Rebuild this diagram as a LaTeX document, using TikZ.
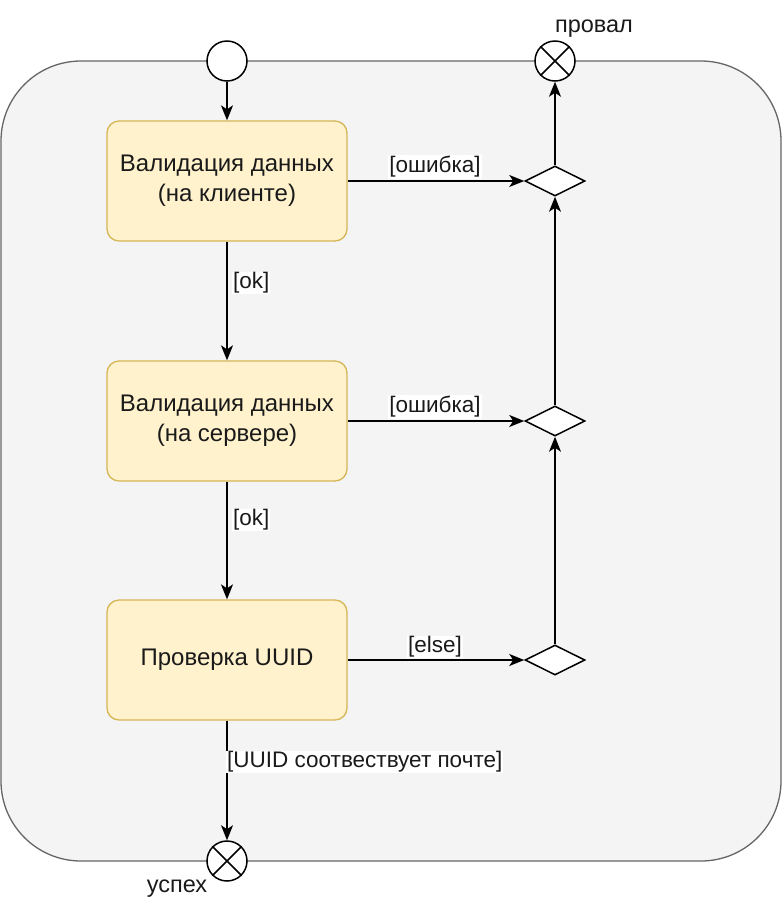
\documentclass[tikz,border=0pt]{standalone}
\usepackage{fontspec}
\setmainfont{Liberation Sans}
\usetikzlibrary{shapes, arrows.meta, positioning}
\definecolor{areafill}{HTML}{F4F4F4}
\definecolor{areadraw}{HTML}{666666}
\definecolor{actfill}{HTML}{FFF2CC}
\definecolor{actdraw}{HTML}{D6B656}
\definecolor{ink}{HTML}{1A1A1A}
\tikzstyle{act} = [rectangle, rounded corners=12pt, draw=actdraw, fill=actfill, line width=1.3pt, minimum width=240pt, minimum height=120pt, align=center, text=ink, font=\fontsize{24}{30}\selectfont]
\tikzstyle{dec} = [diamond, draw, fill=white, line width=1.5pt, minimum width=60pt, minimum height=30pt, inner sep=0pt]
\tikzstyle{startnode} = [circle, draw, fill=white, line width=1.5pt, minimum size=40pt, inner sep=0pt]
\tikzstyle{endnode} = [circle, draw, fill=white, line width=1.5pt, minimum size=40pt, inner sep=0pt]
\tikzstyle{line} = [draw, line width=1.5pt, -{Stealth[length=15pt, width=12pt, inset=4pt]}]
\tikzstyle{guard} = [fill=white, inner sep=1pt, text=ink, font=\fontsize{22.5}{25}\selectfont]
\tikzstyle{final} = [text=ink, font=\fontsize{23.5}{26}\selectfont]

\begin{document}
\begin{tikzpicture}[x=1pt, y=-1pt]
			\useasboundingbox (0,0) rectangle (784,922);
			\draw [areadraw, fill=areafill, line width=1.3pt, rounded corners=80pt] (1,61) rectangle (781,861);
			
			\node [startnode] (start) at (227, 61) {};
			\node [endnode] (fail) at (555, 61) {};
			\node [endnode] (ok) at (227, 861) {};
			\draw [line width=1.5pt] (fail.north east) -- (fail.south west);
			\draw [line width=1.5pt] (fail.north west) -- (fail.south east);
			\draw [line width=1.5pt] (ok.north east) -- (ok.south west);
			\draw [line width=1.5pt] (ok.north west) -- (ok.south east);
			\node [final] (failtxt) at (594, 29) {провал};
			\node [final] (oktxt) at (177, 889) {успех};
			
			\node [act] (client) at (227, 181) {Валидация данных\\(на клиенте)};
			\node [act] (server) at (227, 421) {Валидация данных\\(на сервере)};
			\node [act] (uuid) at (227, 660) {Проверка UUID};
			
			\node [dec] (d1) at (555, 181) {};
			\node [dec] (d2) at (555, 421) {};
			\node [dec] (d3) at (555, 660) {};
			
			\path [line] (start) -- (client);
			\path [line] (client) -- (server);
			\path [line] (server) -- (uuid);
			\path [line] (uuid) -- (ok);
			\path [line] (client) -- (d1);
			\path [line] (server) -- (d2);
			\path [line] (uuid) -- (d3);
			\path [line] (d3) -- (d2);
			\path [line] (d2) -- (d1);
			\path [line] (d1) -- (fail);
			
			\node [guard] (g1) at (435, 167) {[ошибка]};
			\node [guard] (g2) at (435, 407) {[ошибка]};
			\node [guard] (g3) at (435, 647) {[else]};
			\node [guard, anchor=west] (g4) at (232, 283) {[ok]};
			\node [guard, anchor=west] (g5) at (232, 520) {[ok]};
			\node [guard, anchor=west] (g6) at (226, 762) {[UUID соотвествует почте]};
		\end{tikzpicture}
\end{document}
